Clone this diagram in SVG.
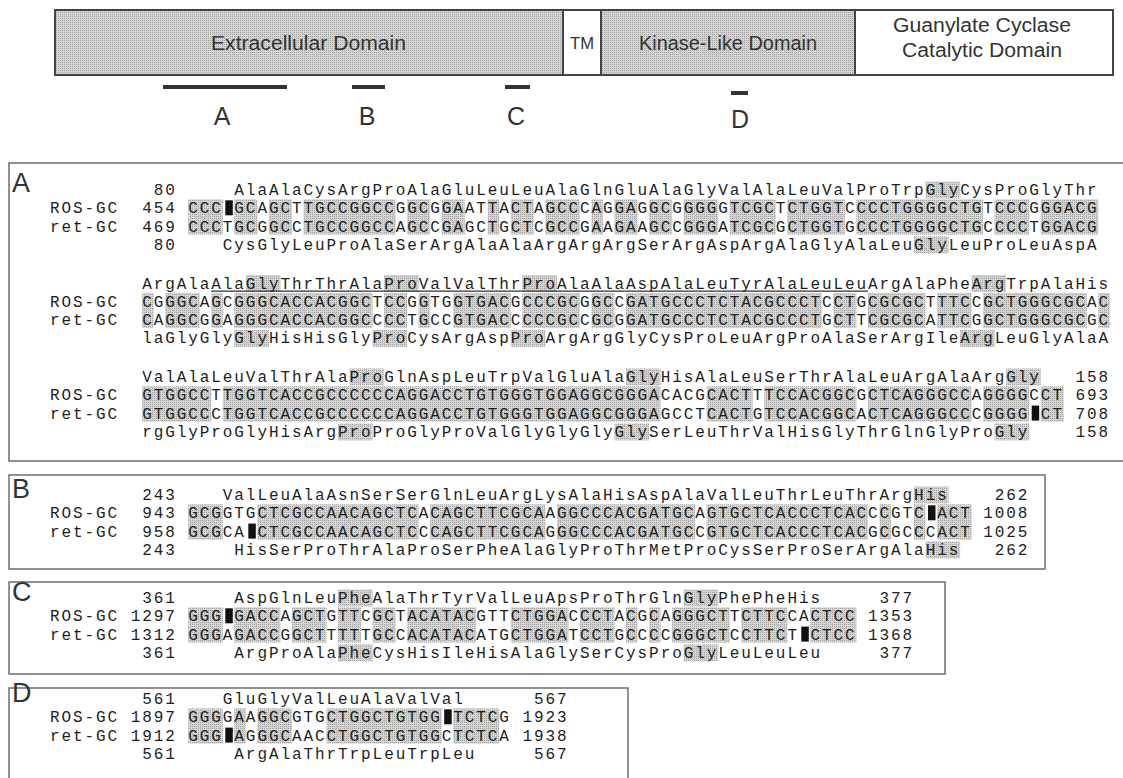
<svg xmlns="http://www.w3.org/2000/svg" width="1123" height="778" viewBox="0 0 1123 778">
<defs>
<pattern id="st" width="2" height="2" patternUnits="userSpaceOnUse"><rect width="2" height="2" fill="#d3d3d3"/><rect width="1" height="1" fill="#a6a6a6"/></pattern>
<style>
.seq{font-family:"Liberation Mono","Courier New",monospace;font-size:16px;letter-spacing:1.92px;fill:#1e1e1e;white-space:pre}
.lbl{font-family:"Liberation Sans",Arial,sans-serif;fill:#333}
.box{fill:none;stroke:#6d6d6d;stroke-width:1.5}
.sh{fill:url(#st)}
.gap{fill:#111}
.dl{stroke:#444;stroke-width:2;fill:none}
.bar{fill:#333}
</style>
</defs>
<rect width="1123" height="778" fill="#fff"/>

<g id="domain-map">
<rect x="55" y="10" width="508" height="65" class="sh"/>
<rect x="601" y="10" width="254" height="65" class="sh"/>
<rect x="55" y="10" width="1058" height="65" class="dl"/>
<line x1="563" y1="10" x2="563" y2="75" class="dl"/>
<line x1="601" y1="10" x2="601" y2="75" class="dl"/>
<line x1="855" y1="10" x2="855" y2="75" class="dl"/>
<text class="lbl" x="211" y="50" font-size="20" textLength="195" lengthAdjust="spacingAndGlyphs">Extracellular Domain</text>
<text class="lbl" x="570" y="49" font-size="17" textLength="24" lengthAdjust="spacingAndGlyphs">TM</text>
<text class="lbl" x="639" y="50" font-size="20" textLength="178" lengthAdjust="spacingAndGlyphs">Kinase-Like Domain</text>
<text class="lbl" x="893" y="32" font-size="20" textLength="178" lengthAdjust="spacingAndGlyphs">Guanylate Cyclase</text>
<text class="lbl" x="902" y="57" font-size="20" textLength="160" lengthAdjust="spacingAndGlyphs">Catalytic Domain</text>
</g>

<g id="markers">
<rect x="163" y="85" width="124" height="4" class="bar"/>
<rect x="352" y="85" width="33" height="4" class="bar"/>
<rect x="505" y="85" width="25" height="4" class="bar"/>
<rect x="731" y="91" width="17" height="4" class="bar"/>
<text class="lbl" x="222" y="125" font-size="25" text-anchor="middle">A</text>
<text class="lbl" x="367" y="125" font-size="25" text-anchor="middle">B</text>
<text class="lbl" x="516" y="125" font-size="25" text-anchor="middle">C</text>
<text class="lbl" x="740" y="128" font-size="25" text-anchor="middle">D</text>
</g>

<g id="panel-A">
<path d="M1130,163 H9 V461 H1130" class="box"/>
<text class="lbl" x="12" y="192" font-size="27">A</text>
<g>
<rect class="sh" x="188.24" y="199.3" width="34.56" height="35.3"/>
<rect class="sh" x="234.32" y="199.3" width="23.04" height="35.3"/>
<rect class="sh" x="268.88" y="199.3" width="23.04" height="35.3"/>
<rect class="sh" x="303.44" y="199.3" width="92.16" height="35.3"/>
<rect class="sh" x="407.12" y="199.3" width="23.04" height="35.3"/>
<rect class="sh" x="441.68" y="199.3" width="23.04" height="35.3"/>
<rect class="sh" x="487.76" y="199.3" width="11.52" height="35.3"/>
<rect class="sh" x="510.8" y="199.3" width="23.04" height="35.3"/>
<rect class="sh" x="545.36" y="199.3" width="34.56" height="35.3"/>
<rect class="sh" x="591.44" y="199.3" width="11.52" height="35.3"/>
<rect class="sh" x="614.48" y="199.3" width="23.04" height="35.3"/>
<rect class="sh" x="649.04" y="199.3" width="23.04" height="35.3"/>
<rect class="sh" x="683.6" y="199.3" width="34.56" height="35.3"/>
<rect class="sh" x="729.68" y="199.3" width="46.08" height="35.3"/>
<rect class="sh" x="787.28" y="199.3" width="57.6" height="35.3"/>
<rect class="sh" x="856.4" y="199.3" width="126.72" height="35.3"/>
<rect class="sh" x="994.64" y="199.3" width="34.56" height="35.3"/>
<rect class="sh" x="1040.72" y="199.3" width="57.6" height="35.3"/>
<rect class="sh" x="925.52" y="181.5" width="34.56" height="17"/>
<rect class="sh" x="914" y="236.4" width="34.56" height="17"/>

<rect class="sh" x="142.16" y="292.8" width="11.52" height="35.3"/>
<rect class="sh" x="165.2" y="292.8" width="34.56" height="35.3"/>
<rect class="sh" x="211.28" y="292.8" width="11.52" height="35.3"/>
<rect class="sh" x="234.32" y="292.8" width="138.24" height="35.3"/>
<rect class="sh" x="384.08" y="292.8" width="23.04" height="35.3"/>
<rect class="sh" x="418.64" y="292.8" width="11.52" height="35.3"/>
<rect class="sh" x="453.2" y="292.8" width="57.6" height="35.3"/>
<rect class="sh" x="522.32" y="292.8" width="57.6" height="35.3"/>
<rect class="sh" x="591.44" y="292.8" width="23.04" height="35.3"/>
<rect class="sh" x="626" y="292.8" width="195.84" height="35.3"/>
<rect class="sh" x="833.36" y="292.8" width="23.04" height="35.3"/>
<rect class="sh" x="867.92" y="292.8" width="57.6" height="35.3"/>
<rect class="sh" x="937.04" y="292.8" width="34.56" height="35.3"/>
<rect class="sh" x="983.12" y="292.8" width="103.68" height="35.3"/>
<rect class="sh" x="1098.32" y="292.8" width="11.52" height="35.3"/>
<rect class="sh" x="245.84" y="275" width="34.56" height="17"/>
<rect class="sh" x="384.08" y="275" width="34.56" height="17"/>
<rect class="sh" x="522.32" y="275" width="34.56" height="17"/>
<rect class="sh" x="971.6" y="275" width="34.56" height="17"/>
<rect class="sh" x="234.32" y="329.9" width="34.56" height="17"/>
<rect class="sh" x="372.56" y="329.9" width="34.56" height="17"/>
<rect class="sh" x="510.8" y="329.9" width="34.56" height="17"/>
<rect class="sh" x="960.08" y="329.9" width="34.56" height="17"/>

<rect class="sh" x="142.16" y="386.3" width="69.12" height="35.3"/>
<rect class="sh" x="222.8" y="386.3" width="437.76" height="35.3"/>
<rect class="sh" x="706.64" y="386.3" width="46.08" height="35.3"/>
<rect class="sh" x="764.24" y="386.3" width="92.16" height="35.3"/>
<rect class="sh" x="867.92" y="386.3" width="103.68" height="35.3"/>
<rect class="sh" x="983.12" y="386.3" width="46.08" height="35.3"/>
<rect class="sh" x="1040.72" y="386.3" width="23.04" height="35.3"/>
<rect class="sh" x="349.52" y="368.5" width="34.56" height="17"/>
<rect class="sh" x="626" y="368.5" width="34.56" height="17"/>
<rect class="sh" x="1006.16" y="368.5" width="34.56" height="17"/>
<rect class="sh" x="338" y="423.4" width="34.56" height="17"/>
<rect class="sh" x="614.48" y="423.4" width="34.56" height="17"/>
<rect class="sh" x="994.64" y="423.4" width="34.56" height="17"/>
</g>
<line x1="211.28" y1="291.2" x2="867.92" y2="291.2" stroke="#333" stroke-width="1.3"/>
<text class="seq" xml:space="preserve" x="50" y="195">         80     AlaAlaCysArgProAlaGluLeuLeuAlaGlnGluAlaGlyValAlaLeuValProTrpGlyCysProGlyThr</text>
<text class="seq" xml:space="preserve" x="50" y="213.3">ROS-GC  454 CCC GCAGCTTGCCGGCCGGCGGAATTACTAGCCCAGGAGGCGGGGGTCGCTCTGGTCCCCTGGGGCTGTCCCGGGACG</text>
<text class="seq" xml:space="preserve" x="50" y="231.6">ret-GC  469 CCCTGCGGCCTGCCGGCCAGCCGAGCTGCTCGCCGAAGAAGCCGGGATCGCGCTGGTGCCCTGGGGCTGCCCCTGGACG</text>
<text class="seq" xml:space="preserve" x="50" y="249.9">         80    CysGlyLeuProAlaSerArgAlaAlaArgArgArgSerArgAspArgAlaGlyAlaLeuGlyLeuProLeuAspA</text>
<text class="seq" xml:space="preserve" x="50" y="288.5">        ArgAlaAlaGlyThrThrAlaProValValThrProAlaAlaAspAlaLeuTyrAlaLeuLeuArgAlaPheArgTrpAlaHis</text>
<text class="seq" xml:space="preserve" x="50" y="306.8">ROS-GC  CGGGCAGCGGGCACCACGGCTCCGGTGGTGACGCCCGCGGCCGATGCCCTCTACGCCCTCCTGCGCGCTTTCCGCTGGGCGCAC</text>
<text class="seq" xml:space="preserve" x="50" y="325.1">ret-GC  CAGGCGGAGGGCACCACGGCCCCTGCCGTGACCCCCGCCGCGGATGCCCTCTACGCCCTGCTTCGCGCATTCGGCTGGGCGCGC</text>
<text class="seq" xml:space="preserve" x="50" y="343.4">        laGlyGlyGlyHisHisGlyProCysArgAspProArgArgGlyCysProLeuArgProAlaSerArgIleArgLeuGlyAlaA</text>
<text class="seq" xml:space="preserve" x="50" y="382">        ValAlaLeuValThrAlaProGlnAspLeuTrpValGluAlaGlyHisAlaLeuSerThrAlaLeuArgAlaArgGly   158</text>
<text class="seq" xml:space="preserve" x="50" y="400.3">ROS-GC  GTGGCCTTGGTCACCGCCCCCCAGGACCTGTGGGTGGAGGCGGGACACGCACTTTCCACGGCGCTCAGGGCCAGGGGCCT 693</text>
<text class="seq" xml:space="preserve" x="50" y="418.6">ret-GC  GTGGCCCTGGTCACCGCCCCCCAGGACCTGTGGGTGGAGGCGGGAGCCTCACTGTCCACGGCACTCAGGGCCCGGGG CT 708</text>
<text class="seq" xml:space="preserve" x="50" y="436.9">        rgGlyProGlyHisArgProProGlyProValGlyGlyGlyGlySerLeuThrValHisGlyThrGlnGlyProGly    158</text>
<rect class="gap" x="225.3" y="200.3" width="7.5" height="15"/>
<rect class="gap" x="1031.7" y="405.6" width="7.5" height="15"/>
</g>

<g id="panel-B">
<rect x="9" y="475" width="1036" height="94" class="box"/>
<text class="lbl" x="12" y="498" font-size="27">B</text>
<rect class="sh" x="188.24" y="504.3" width="34.56" height="35.3"/>
<rect class="sh" x="257.36" y="504.3" width="161.28" height="35.3"/>
<rect class="sh" x="430.16" y="504.3" width="115.2" height="35.3"/>
<rect class="sh" x="556.88" y="504.3" width="138.24" height="35.3"/>
<rect class="sh" x="706.64" y="504.3" width="161.28" height="35.3"/>
<rect class="sh" x="879.44" y="504.3" width="11.52" height="35.3"/>
<rect class="sh" x="914" y="504.3" width="11.52" height="35.3"/>
<rect class="sh" x="937.04" y="504.3" width="34.56" height="35.3"/>
<rect class="sh" x="914" y="486.5" width="34.56" height="17"/>
<rect class="sh" x="925.52" y="541.4" width="34.56" height="17"/>
<text class="seq" xml:space="preserve" x="50" y="500">        243    ValLeuAlaAsnSerSerGlnLeuArgLysAlaHisAspAlaValLeuThrLeuThrArgHis    262</text>
<text class="seq" xml:space="preserve" x="50" y="518.3">ROS-GC  943 GCGGTGCTCGCCAACAGCTCACAGCTTCGCAAGGCCCACGATGCAGTGCTCACCCTCACCCGTC ACT 1008</text>
<text class="seq" xml:space="preserve" x="50" y="536.6">ret-GC  958 GCGCA CTCGCCAACAGCTCCCAGCTTCGCAGGGCCCACGATGCCGTGCTCACCCTCACGCGCCCACT 1025</text>
<text class="seq" xml:space="preserve" x="50" y="554.9">        243     HisSerProThrAlaProSerPheAlaGlyProThrMetProCysSerProSerArgAlaHis   262</text>
<rect class="gap" x="928" y="505.3" width="7.5" height="15"/>
<rect class="gap" x="248.3" y="523.6" width="7.5" height="15"/>
</g>

<g id="panel-C">
<rect x="9" y="582" width="936" height="92" class="box"/>
<text class="lbl" x="12" y="601" font-size="27">C</text>
<rect class="sh" x="188.24" y="607.3" width="34.56" height="35.3"/>
<rect class="sh" x="234.32" y="607.3" width="46.08" height="35.3"/>
<rect class="sh" x="291.92" y="607.3" width="34.56" height="35.3"/>
<rect class="sh" x="338" y="607.3" width="23.04" height="35.3"/>
<rect class="sh" x="372.56" y="607.3" width="23.04" height="35.3"/>
<rect class="sh" x="407.12" y="607.3" width="69.12" height="35.3"/>
<rect class="sh" x="510.8" y="607.3" width="57.6" height="35.3"/>
<rect class="sh" x="579.92" y="607.3" width="34.56" height="35.3"/>
<rect class="sh" x="626" y="607.3" width="11.52" height="35.3"/>
<rect class="sh" x="649.04" y="607.3" width="11.52" height="35.3"/>
<rect class="sh" x="672.08" y="607.3" width="57.6" height="35.3"/>
<rect class="sh" x="741.2" y="607.3" width="46.08" height="35.3"/>
<rect class="sh" x="810.32" y="607.3" width="46.08" height="35.3"/>
<rect class="sh" x="338" y="589.5" width="34.56" height="17"/>
<rect class="sh" x="683.6" y="589.5" width="34.56" height="17"/>
<rect class="sh" x="338" y="644.4" width="34.56" height="17"/>
<rect class="sh" x="683.6" y="644.4" width="34.56" height="17"/>
<text class="seq" xml:space="preserve" x="50" y="603">        361     AspGlnLeuPheAlaThrTyrValLeuApsProThrGlnGlyPhePheHis     377</text>
<text class="seq" xml:space="preserve" x="50" y="621.3">ROS-GC 1297 GGG GACCAGCTGTTCGCTACATACGTTCTGGACCCTACGCAGGGCTTCTTCCACTCC 1353</text>
<text class="seq" xml:space="preserve" x="50" y="639.6">ret-GC 1312 GGGAGACCGGCTTTTTGCCACATACATGCTGGATCCTGCCCCGGGCTCCTTCT CTCC 1368</text>
<text class="seq" xml:space="preserve" x="50" y="657.9">        361     ArgProAlaPheCysHisIleHisAlaGlySerCysProGlyLeuLeuLeu     377</text>
<rect class="gap" x="225.3" y="608.3" width="7.5" height="15"/>
<rect class="gap" x="801.3" y="626.6" width="7.5" height="15"/>
</g>

<g id="panel-D">
<path d="M9,790 V688 H628 V790" class="box"/>
<text class="lbl" x="12" y="702" font-size="27">D</text>
<rect class="sh" x="188.24" y="708.3" width="34.56" height="35.3"/>
<rect class="sh" x="234.32" y="708.3" width="11.52" height="35.3"/>
<rect class="sh" x="257.36" y="708.3" width="34.56" height="35.3"/>
<rect class="sh" x="326.48" y="708.3" width="115.2" height="35.3"/>
<rect class="sh" x="453.2" y="708.3" width="46.08" height="35.3"/>
<text class="seq" xml:space="preserve" x="50" y="704">        561    GluGlyValLeuAlaValVal      567</text>
<text class="seq" xml:space="preserve" x="50" y="722.3">ROS-GC 1897 GGGGAAGGCGTGCTGGCTGTGG TCTCG 1923</text>
<text class="seq" xml:space="preserve" x="50" y="740.6">ret-GC 1912 GGG AGGGCAACCTGGCTGTGGCTCTCA 1938</text>
<text class="seq" xml:space="preserve" x="50" y="758.9">        561     ArgAlaThrTrpLeuTrpLeu     567</text>
<rect class="gap" x="444.2" y="709.3" width="7.5" height="15"/>
<rect class="gap" x="225.3" y="727.6" width="7.5" height="15"/>
</g>
</svg>
